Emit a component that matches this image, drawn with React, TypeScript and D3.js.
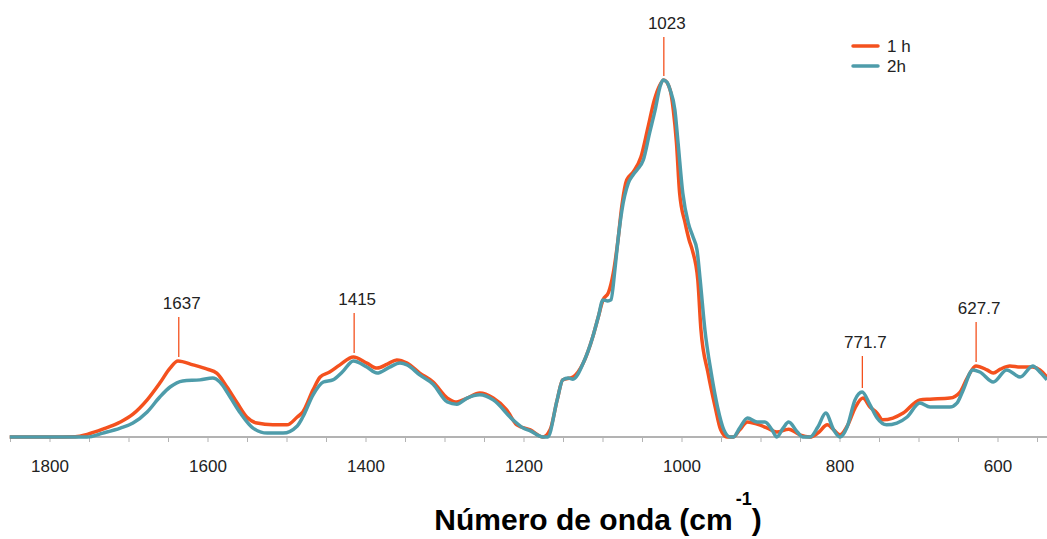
import React from "react";
import * as d3 from "d3";

// wavenumber (cm-1) and relative absorbance
const wave1h = [1851, 1800, 1768, 1752, 1733, 1711, 1695, 1677, 1661, 1648, 1638, 1619, 1601, 1589, 1576, 1563, 1551, 1538, 1518, 1500, 1487, 1480, 1467, 1458, 1446, 1433, 1416, 1399, 1386, 1373, 1361, 1348, 1332, 1315, 1297, 1285, 1272, 1256, 1239, 1222, 1209, 1192, 1176, 1167, 1158, 1151, 1138, 1125, 1113, 1106, 1100, 1093, 1087, 1081, 1076, 1070, 1062, 1052, 1043, 1035, 1028, 1023, 1015, 1011, 1007, 1003, 996, 991, 987, 980, 976, 967, 958, 951, 943, 935, 927, 917, 905, 892, 880, 865, 851, 838, 828, 816, 808, 800, 790, 781, 771, 762, 753, 746, 733, 720, 699, 686, 661, 648, 639, 628, 614, 606, 597, 585, 572, 556, 547, 538];
const abs1h = [0, 0, 0.001, 0.008, 0.022, 0.042, 0.064, 0.104, 0.151, 0.193, 0.213, 0.202, 0.19, 0.179, 0.14, 0.095, 0.056, 0.039, 0.034, 0.034, 0.056, 0.07, 0.132, 0.168, 0.182, 0.202, 0.224, 0.207, 0.193, 0.204, 0.216, 0.207, 0.179, 0.154, 0.109, 0.098, 0.109, 0.123, 0.109, 0.076, 0.034, 0.02, 0, 0.02, 0.104, 0.16, 0.168, 0.207, 0.28, 0.336, 0.384, 0.405, 0.459, 0.552, 0.65, 0.72, 0.742, 0.784, 0.868, 0.944, 0.986, 1.0, 0.972, 0.916, 0.824, 0.683, 0.599, 0.552, 0.524, 0.44, 0.3, 0.179, 0.084, 0.02, 0, 0, 0.02, 0.042, 0.036, 0.025, 0.014, 0.022, 0.006, 0, 0.011, 0.034, 0.02, 0.006, 0.034, 0.081, 0.109, 0.084, 0.067, 0.048, 0.053, 0.067, 0.104, 0.106, 0.109, 0.126, 0.165, 0.199, 0.188, 0.179, 0.19, 0.199, 0.196, 0.196, 0.188, 0.168];

const wave2h = [1851, 1753, 1733, 1711, 1695, 1677, 1661, 1648, 1632, 1610, 1594, 1585, 1572, 1559, 1543, 1525, 1505, 1487, 1480, 1467, 1454, 1442, 1430, 1416, 1399, 1386, 1370, 1357, 1348, 1332, 1315, 1297, 1285, 1272, 1256, 1239, 1214, 1201, 1192, 1176, 1170, 1158, 1151, 1144, 1138, 1125, 1113, 1106, 1100, 1094, 1090, 1085, 1081, 1076, 1068, 1062, 1057, 1049, 1041, 1034, 1028, 1024, 1019, 1015, 1009, 1005, 999, 992, 986, 981, 977, 971, 963, 955, 947, 939, 935, 927, 917, 905, 895, 886, 880, 872, 865, 854, 847, 838, 828, 818, 808, 800, 791, 781, 772, 762, 753, 741, 728, 715, 699, 686, 661, 652, 644, 632, 623, 606, 589, 572, 556, 547, 538];
const abs2h = [0, 0, 0.011, 0.025, 0.039, 0.07, 0.112, 0.14, 0.157, 0.16, 0.165, 0.154, 0.112, 0.067, 0.025, 0.011, 0.011, 0.031, 0.056, 0.118, 0.154, 0.16, 0.182, 0.213, 0.196, 0.179, 0.196, 0.207, 0.202, 0.174, 0.148, 0.098, 0.092, 0.109, 0.118, 0.104, 0.048, 0.025, 0.017, 0, 0, 0.104, 0.16, 0.165, 0.162, 0.207, 0.28, 0.336, 0.384, 0.381, 0.384, 0.468, 0.552, 0.636, 0.711, 0.734, 0.748, 0.776, 0.852, 0.916, 0.98, 1.0, 0.994, 0.972, 0.916, 0.824, 0.683, 0.599, 0.56, 0.524, 0.44, 0.3, 0.179, 0.084, 0.02, 0, 0, 0.025, 0.053, 0.042, 0.042, 0.02, 0, 0.025, 0.042, 0.014, 0, 0, 0.028, 0.067, 0.02, 0, 0.028, 0.104, 0.126, 0.09, 0.053, 0.034, 0.039, 0.056, 0.095, 0.084, 0.084, 0.095, 0.132, 0.188, 0.182, 0.154, 0.188, 0.168, 0.199, 0.182, 0.16];

const peakLabels = ["1637", "1415", "1023", "771.7", "627.7"];
const peakWaves = [1637, 1415, 1023, 771.7, 627.7];
const peakHeights = [0.213, 0.224, 1.0, 0.126, 0.199];
const labelGaps = [48, 48, 47, 40, 48];

const tickLabels = [1800, 1600, 1400, 1200, 1000, 800, 600];
const seriesNames = ["1 h", "2h"];
const colors = ["#F4511E", "#4E9CAA"];

const W = 1047;
const H = 539;
const baseY = 437;

export default function App() {
  const x = d3.scaleLinear().domain([1800, 600]).range([50, 998]);
  const y = d3.scaleLinear().domain([0, 1]).range([baseY, 80]);

  const line = d3
    .line<[number, number]>()
    .x((d) => x(d[0]))
    .y((d) => y(d[1]))
    .curve(d3.curveMonotoneX);

  const s1 = wave1h.map((w, i) => [w, abs1h[i]] as [number, number]);
  const s2 = wave2h.map((w, i) => [w, abs2h[i]] as [number, number]);

  const minorTicks = d3.range(1850, 549, -50);
  const font = "Arial, 'Liberation Sans', sans-serif";

  return (
    <svg
      width={W}
      height={H}
      style={{ position: "absolute", left: 0, top: 0, background: "#fff" }}
      fontFamily={font}
    >
      {/* axis */}
      <line x1={10} x2={W} y1={baseY} y2={baseY} stroke="#b3b3b3" strokeWidth={2} />
      {minorTicks.map((t) => (
        <line key={t} x1={x(t)} x2={x(t)} y1={baseY} y2={baseY + 5} stroke="#b3b3b3" strokeWidth={1} />
      ))}
      {tickLabels.map((t) => (
        <text key={t} x={x(t)} y={472} textAnchor="middle" fontSize={17} fill="#222">
          {t}
        </text>
      ))}

      {/* peak markers */}
      {peakWaves.map((p, i) => {
        const py = y(peakHeights[i]) - 4;
        return (
          <g key={p}>
            <line x1={x(p)} x2={x(p)} y1={py - labelGaps[i] + 8} y2={py} stroke={colors[0]} strokeWidth={1.3} />
            <text x={x(p) + 3} y={py - labelGaps[i]} textAnchor="middle" fontSize={17} fill="#222">
              {peakLabels[i]}
            </text>
          </g>
        );
      })}

      {/* spectra */}
      <path d={line(s1) || ""} fill="none" stroke={colors[0]} strokeWidth={3.5} strokeLinejoin="round" />
      <path d={line(s2) || ""} fill="none" stroke={colors[1]} strokeWidth={3.5} strokeLinejoin="round" />

      {/* legend */}
      {seriesNames.map((n, i) => (
        <g key={n} transform={`translate(853,${46 + i * 20})`}>
          <line x1={0} x2={25} y1={0} y2={0} stroke={colors[i]} strokeWidth={3.5} strokeLinecap="round" />
          <text x={34} y={6} fontSize={17} fill="#222">
            {n}
          </text>
        </g>
      ))}

      {/* x title */}
      <text x={598} y={530} textAnchor="middle" fontSize={30} fontWeight="bold" fill="#000">
        Número de onda (cm
        <tspan fontSize={18} dy={-25} dx={3}>-1</tspan>
        <tspan dy={25}>)</tspan>
      </text>
    </svg>
  );
}
